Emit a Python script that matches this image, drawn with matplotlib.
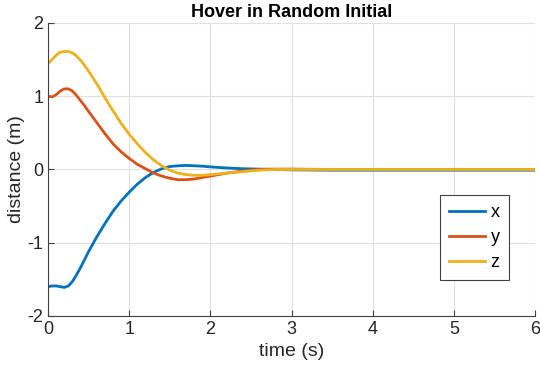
import matplotlib
matplotlib.use("Agg")
import matplotlib.pyplot as plt

# time samples (s) and the three position components (m)
t = [0, 0.05, 0.1, 0.15, 0.2, 0.25, 0.3, 0.35, 0.4, 0.45, 0.5, 0.6, 0.7, 0.8, 0.9,
     1.0, 1.1, 1.2, 1.3, 1.4, 1.5, 1.6, 1.7, 1.8, 1.9, 2.0, 2.2, 2.4, 2.6, 2.8,
     3.0, 3.5, 4.0, 5.0, 6.0]
x_pos = [-1.60, -1.59, -1.59, -1.60, -1.61, -1.59, -1.53, -1.44, -1.34, -1.23, -1.12,
         -0.92, -0.74, -0.57, -0.43, -0.31, -0.20, -0.11, -0.04, 0.01, 0.04, 0.05,
         0.055, 0.05, 0.045, 0.035, 0.02, 0.01, 0.005, 0.0, -0.005, -0.01, -0.01,
         -0.01, -0.01]
y_pos = [1.00, 0.99, 1.02, 1.07, 1.10, 1.10, 1.07, 1.01, 0.94, 0.87, 0.79, 0.64, 0.49,
         0.35, 0.24, 0.15, 0.07, 0.01, -0.05, -0.09, -0.12, -0.14, -0.14, -0.13,
         -0.11, -0.09, -0.05, -0.02, 0.0, 0.005, 0.005, 0.0, 0.0, 0.0, 0.0]
z_pos = [1.45, 1.50, 1.56, 1.60, 1.61, 1.61, 1.59, 1.55, 1.49, 1.42, 1.34, 1.17, 0.98,
         0.80, 0.63, 0.48, 0.35, 0.23, 0.13, 0.05, -0.01, -0.05, -0.07, -0.08, -0.08,
         -0.07, -0.05, -0.03, -0.01, 0.0, 0.0, 0.0, 0.0, 0.0, 0.0]
labels = ['x', 'y', 'z']
colors = ['#0072BD', '#D95319', '#EDB120']

plt.rcParams['font.family'] = ['Liberation Sans', 'DejaVu Sans']
plt.rcParams['axes.unicode_minus'] = False

fig = plt.figure(figsize=(5.4, 3.7), dpi=100)
ax = fig.add_axes([0.089, 0.146, 0.902, 0.792])

for vals, lab, c in zip([x_pos, y_pos, z_pos], labels, colors):
    ax.plot(t, vals, color=c, lw=2, label=lab)

ax.set_xlim(0, 6)
ax.set_ylim(-2, 2)
ax.set_xticks(range(0, 7))
ax.set_yticks([-2, -1, 0, 1, 2])
ax.grid(True, color='#e0e0e0', lw=0.8)
ax.set_axisbelow(True)

for s in ['top', 'right']:
    ax.spines[s].set_visible(False)
for s in ['left', 'bottom']:
    ax.spines[s].set_color('#404040')
ax.tick_params(direction='in', length=4, color='#404040', labelsize=13, labelcolor='#262626')

ax.set_xlabel('time (s)', fontsize=14, color='#262626')
ax.set_ylabel('distance (m)', fontsize=14, color='#262626', labelpad=2)
ax.set_title('Hover in Random Initial', fontsize=13, fontweight='bold', pad=4)

leg = ax.legend(loc='center', bbox_to_anchor=(0.875, 0.268), fontsize=13, fancybox=False,
                framealpha=1, edgecolor='#404040', handlelength=2.0, handletextpad=0.3,
                borderpad=0.5, labelspacing=0.45)
leg.get_frame().set_linewidth(0.8)

fig.savefig('out.png', dpi=100)
